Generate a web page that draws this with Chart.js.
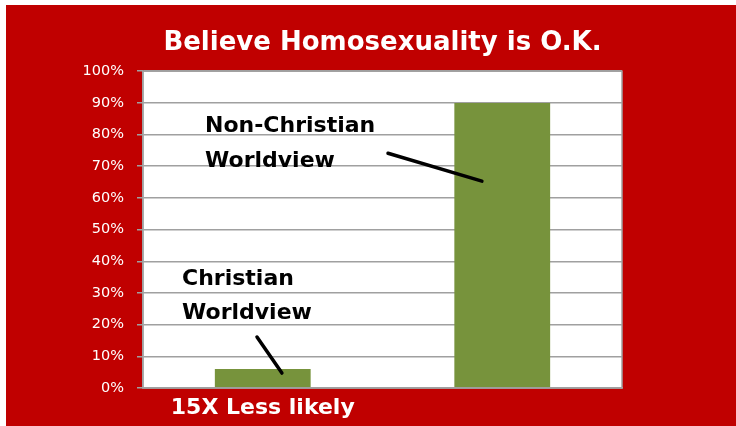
<!DOCTYPE html>
<html>
<head>
<meta charset="utf-8">
<script src="https://cdn.jsdelivr.net/npm/chart.js@4/dist/chart.umd.min.js"></script>
<style>
  html, body { margin: 0; padding: 0; background: #ffffff; }
  #wrap { position: absolute; left: 6px; top: 5px; width: 730px; height: 421px; background: #C00000; }
  canvas { display: block; }
</style>
</head>
<body>
<div id="wrap"><canvas id="c" width="730" height="421"></canvas></div>
<script>
// ---- data ----
const categories = ['Christian Worldview', 'Non-Christian Worldview'];
const believeOK = [6, 90];                 // percent
const categoryNotes = ['15X Less likely', ''];
const yTicks = [0, 10, 20, 30, 40, 50, 60, 70, 80, 90, 100];
const titleText = 'Believe Homosexuality is O.K.';

// callout text lines, anchored in data units (category index, percent baseline)
const calloutLines = [['Christian', 'Worldview'], ['Non-Christian', 'Worldview']];
const calloutX = [-0.337, -0.241];
const calloutBaselines = [[32.5, 21.8], [80.8, 69.7]];
// leader lines (category index, percent)
const leaderFromX = [-0.024, 0.523];
const leaderFromY = [16.1, 74.1];
const leaderToX = [0.080, 0.915];
const leaderToY = [4.7, 65.3];

const plotFrame = {
  id: 'plotFrame',
  beforeDraw(chart) {
    const a = chart.chartArea, ctx = chart.ctx;
    ctx.save();
    ctx.fillStyle = '#ffffff';
    ctx.fillRect(a.left, a.top, a.right - a.left, a.bottom - a.top);
    ctx.restore();
  },
  afterDraw(chart) {
    const a = chart.chartArea, ctx = chart.ctx;
    ctx.save();
    ctx.strokeStyle = '#a0a0a0';
    ctx.lineWidth = 1.5;
    ctx.strokeRect(a.left, a.top, a.right - a.left, a.bottom - a.top);
    ctx.restore();
  }
};

const callouts = {
  id: 'callouts',
  afterDatasetsDraw(chart) {
    const ctx = chart.ctx, xs = chart.scales.x, ys = chart.scales.y;
    ctx.save();
    ctx.fillStyle = '#000000';
    ctx.font = 'bold 22px "DejaVu Sans"';
    ctx.textAlign = 'left';
    ctx.textBaseline = 'alphabetic';
    calloutLines.forEach((lines, i) => {
      lines.forEach((t, j) => {
        ctx.fillText(t, xs.getPixelForValue(calloutX[i]), ys.getPixelForValue(calloutBaselines[i][j]));
      });
    });
    ctx.strokeStyle = '#000000';
    ctx.lineWidth = 3.5;
    ctx.lineCap = 'round';
    leaderFromX.forEach((fx, i) => {
      ctx.beginPath();
      ctx.moveTo(xs.getPixelForValue(fx), ys.getPixelForValue(leaderFromY[i]));
      ctx.lineTo(xs.getPixelForValue(leaderToX[i]), ys.getPixelForValue(leaderToY[i]));
      ctx.stroke();
    });
    ctx.restore();
  }
};

new Chart(document.getElementById('c'), {
  type: 'bar',
  data: {
    labels: categories,
    datasets: [{
      data: believeOK,
      backgroundColor: '#77933C',
      borderWidth: 0,
      categoryPercentage: 0.8,
      barPercentage: 0.5
    }]
  },
  options: {
    responsive: false,
    animation: false,
    layout: { padding: { top: 0, left: 0, right: 114, bottom: 0 } },
    plugins: {
      legend: { display: false },
      tooltip: { enabled: false },
      title: {
        display: true,
        text: titleText,
        fullSize: false,
        color: '#ffffff',
        font: { family: '"DejaVu Sans"', size: 26, weight: 'bold', lineHeight: 1.2 },
        padding: { top: 23, bottom: 12 }
      }
    },
    scales: {
      x: {
        grid: { display: false, drawTicks: false },
        border: { display: true, color: '#a0a0a0', width: 1.5 },
        ticks: {
          color: '#ffffff',
          padding: 7,
          font: { family: '"DejaVu Sans"', size: 22, weight: 'bold' },
          callback: (v, i) => categoryNotes[i]
        },
        afterFit: (s) => { s.height = 38; }
      },
      y: {
        min: 0, max: 100,
        afterBuildTicks: (s) => { s.ticks = yTicks.map(v => ({ value: v })); },
        grid: { color: '#a0a0a0', lineWidth: 1.5, tickLength: 6, drawTicks: true },
        border: { display: true, color: '#a0a0a0', width: 1.5 },
        ticks: {
          color: '#ffffff',
          padding: 13,
          font: { family: '"DejaVu Sans"', size: 14.5 },
          callback: (v) => v + '%'
        },
        afterFit: (s) => { s.width = 137; }
      }
    }
  },
  plugins: [plotFrame, callouts]
});
</script>
</body>
</html>
